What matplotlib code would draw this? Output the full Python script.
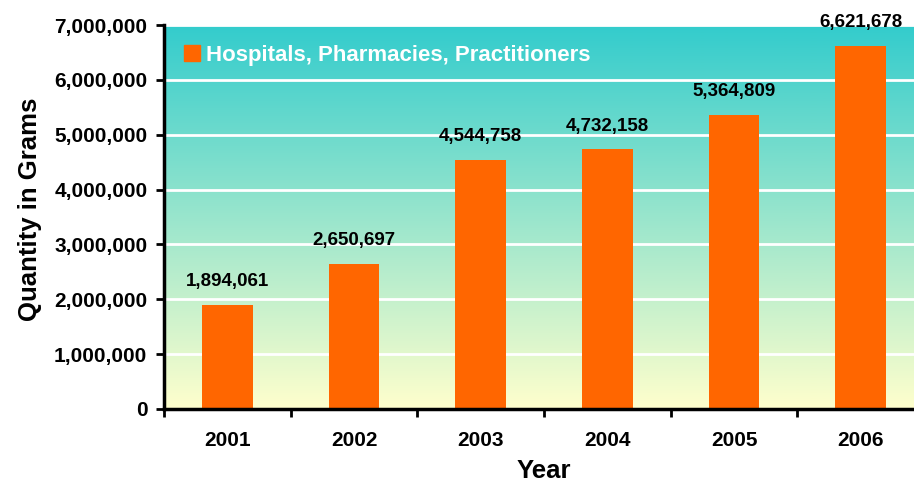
import matplotlib.pyplot as plt
import numpy as np
from matplotlib.colors import LinearSegmentedColormap
from matplotlib.patches import Patch

years = ['2001', '2002', '2003', '2004', '2005', '2006']
grams = [1894061, 2650697, 4544758, 4732158, 5364809, 6621678]

plt.rcParams['font.family'] = 'Liberation Sans'
plt.rcParams['font.weight'] = 'bold'

fig = plt.figure(figsize=(9.14, 4.83), dpi=100)
# right edge runs past the figure like in the original
ax = fig.add_axes([164 / 914, 1 - 409 / 483, 760 / 914, 384 / 483])

x = np.arange(len(years))
ax.set_xlim(-0.5, len(years) - 0.5)
ax.set_ylim(0, 7000000)

# gradient background teal -> pale yellow
cmap = LinearSegmentedColormap.from_list('bg', ['#FFFFCC', '#33CCCC'])
grad = np.linspace(0, 1, 256).reshape(-1, 1)
ax.imshow(grad, aspect='auto', cmap=cmap, origin='lower',
          extent=(-0.5, len(years) - 0.5, 0, 7000000), zorder=0)

ax.grid(axis='y', color='white', lw=2, zorder=1)
ax.set_axisbelow(True)

bars = ax.bar(x, grams, width=0.4, color='#FF6600', zorder=2)

for xi, v in zip(x, grams):
    ax.text(xi, v + 270000, f'{v:,}', ha='center', va='bottom',
            fontsize=13.5, fontweight='bold', zorder=3)

ax.set_yticks(np.arange(0, 7000001, 1000000))
ax.set_yticklabels([f'{int(t):,}' for t in np.arange(0, 7000001, 1000000)],
                   fontsize=15, fontweight='bold')
ax.set_xticks(x)
ax.set_xticklabels(years, fontsize=15, fontweight='bold')
ax.set_xticks(np.arange(-0.5, len(years), 1), minor=True)
ax.tick_params(axis='x', which='major', length=0, pad=16)
ax.tick_params(axis='x', which='minor', length=6, width=2, direction='out')
ax.tick_params(axis='y', length=6, width=2, direction='out', pad=6)

for s in ['top', 'right']:
    ax.spines[s].set_visible(False)
for s in ['left', 'bottom']:
    ax.spines[s].set_linewidth(2.5)

ax.set_xlabel('Year', fontsize=18.5, fontweight='bold', labelpad=6)
ax.set_ylabel('Quantity in Grams', fontsize=18.5, fontweight='bold')
ax.yaxis.set_label_coords(-0.16, 0.52)

leg = ax.legend(handles=[Patch(color='#FF6600')],
                labels=['Hospitals, Pharmacies, Practitioners'],
                loc='upper left', bbox_to_anchor=(0.0, 1.0), frameon=False,
                prop={'size': 16, 'weight': 'bold'}, handlelength=0.7,
                handleheight=0.7, handletextpad=0.3)
for t in leg.get_texts():
    t.set_color('white')

fig.savefig('out.png', dpi=100)
